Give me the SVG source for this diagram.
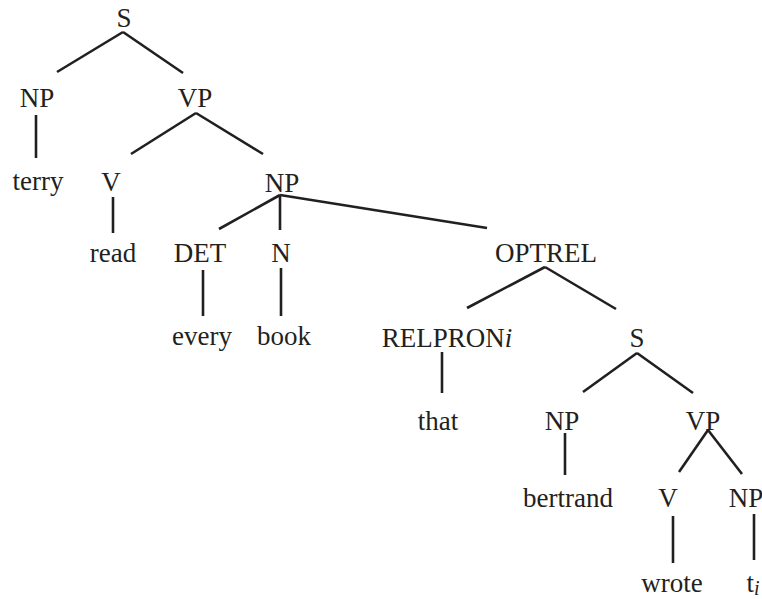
<svg xmlns="http://www.w3.org/2000/svg" width="762" height="599" viewBox="0 0 762 599">
<style>
text{font-family:"Liberation Serif","Times New Roman",serif;font-size:27px;fill:#231f20;text-anchor:middle}
.e line{stroke:#231f20;stroke-width:2.6;stroke-linecap:butt}
</style>
<rect width="762" height="599" fill="#fff"/>
<g class="e" id="edges">
<line x1="123" y1="32" x2="57" y2="72"/>
<line x1="123" y1="32" x2="183" y2="73"/>
<line x1="36" y1="115" x2="36" y2="158"/>
<line x1="196" y1="113" x2="131" y2="154"/>
<line x1="196" y1="113" x2="263" y2="154"/>
<line x1="113" y1="197" x2="113" y2="233"/>
<line x1="280" y1="195" x2="219" y2="229"/>
<line x1="280" y1="195" x2="280" y2="230"/>
<line x1="280" y1="195" x2="487" y2="228"/>
<line x1="203" y1="270" x2="203" y2="316"/>
<line x1="281" y1="268" x2="281" y2="316"/>
<line x1="545" y1="267" x2="467" y2="308"/>
<line x1="545" y1="267" x2="616" y2="309"/>
<line x1="442" y1="352" x2="442" y2="393"/>
<line x1="637" y1="353" x2="583" y2="392"/>
<line x1="637" y1="353" x2="693" y2="393"/>
<line x1="565" y1="433" x2="565" y2="475"/>
<line x1="708" y1="430" x2="679" y2="472"/>
<line x1="708" y1="430" x2="742" y2="474"/>
<line x1="673" y1="516" x2="673" y2="563"/>
<line x1="754" y1="514" x2="754" y2="560"/>
</g>
<g id="n-s1"><text x="124" y="27">S</text></g>
<g id="n-np1"><text x="37" y="107">NP</text></g>
<g id="n-vp1"><text x="195" y="107">VP</text></g>
<g id="n-terry"><text x="38" y="190">terry</text></g>
<g id="n-v1"><text x="111" y="191">V</text></g>
<g id="n-np2"><text x="282" y="192">NP</text></g>
<g id="n-read"><text x="113" y="262">read</text></g>
<g id="n-det"><text x="200" y="262">DET</text></g>
<g id="n-n"><text x="281" y="262">N</text></g>
<g id="n-optrel"><text x="546" y="262">OPTREL</text></g>
<g id="n-every"><text x="202" y="345">every</text></g>
<g id="n-book"><text x="284" y="345">book</text></g>
<g id="n-relpron"><text x="447" y="347">RELPRON<tspan font-style="italic">i</tspan></text></g>
<g id="n-s2"><text x="637" y="347">S</text></g>
<g id="n-that"><text x="438" y="430">that</text></g>
<g id="n-np3"><text x="562" y="430">NP</text></g>
<g id="n-vp2"><text x="703" y="430">VP</text></g>
<g id="n-bertrand"><text x="568" y="507">bertrand</text></g>
<g id="n-v2"><text x="668" y="507">V</text></g>
<g id="n-np4"><text x="746" y="507">NP</text></g>
<g id="n-wrote"><text x="672" y="592">wrote</text></g>
<g id="n-t"><text x="753" y="592" text-anchor="start">t<tspan font-style="italic" font-size="20" dy="3">i</tspan></text></g>
</svg>
